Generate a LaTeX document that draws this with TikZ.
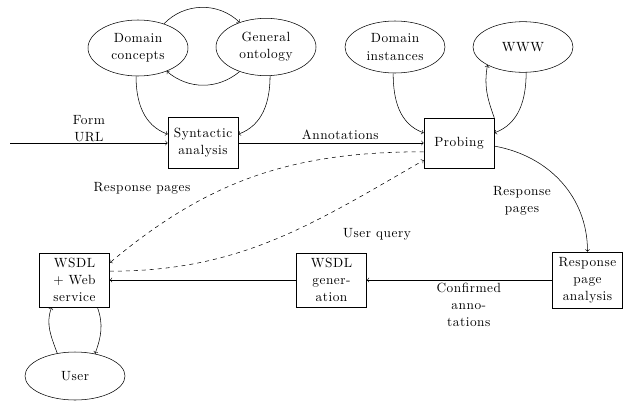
\documentclass[tikz,border=0pt]{standalone}
\usepackage{fontspec}
\setmainfont{Latin Modern Roman}[LetterSpace=4]
\usetikzlibrary{shapes.geometric,calc}
\begin{document}
\begin{tikzpicture}[x=0.75pt,y=0.75pt,>=to,
  every node/.style={font=\fontsize{10}{12.8}\selectfont},
  ell/.style={draw,ellipse,minimum width=75pt,minimum height=41pt,inner sep=0pt,align=center},
  box/.style={draw,rectangle,minimum width=52.5pt,inner sep=1pt,align=center},
  lbl/.style={align=center,inner sep=2pt}]
\useasboundingbox (0,0) rectangle (623,-400);
% nodes
\node[ell,minimum height=42pt] (dc) at (138,-48) {Domain\\concepts};
\node[ell,minimum height=43pt] (go) at (266,-47) {General\\ontology};
\node[ell,minimum height=39pt] (di) at (395,-47) {Domain\\instances};
\node[ell,minimum height=38pt] (www) at (523,-47) {WWW};
\node[ell,minimum height=36pt] (user) at (75,-376) {User};
\node[box,minimum height=38pt] (syn) at (203,-143) {Syntactic\\analysis};
\node[box,minimum height=37.5pt] (prob) at (459,-143) {Probing};
\node[box,minimum height=40.5pt] (wsdl) at (74.5,-280) {WSDL\\$+$ Web\\service};
\node[box,minimum height=40.5pt] (gen) at (331.5,-280) {WSDL\\gener-\\ation};
\node[box,minimum height=42pt] (rpa) at (587.5,-280) {Response\\page\\analysis};
\coordinate (in) at (10,-143);
% labels
\node[lbl] (lrp1) at (142,-188) {Response pages};
\node[lbl] (luq) at (377,-234) {User query};
\node[lbl] (lrp2) at (522,-201) {Response\\pages};
% connectors
\draw[->] (dc.43) to[bend left=45] (go.137);
\draw[->] (go.223) to[bend left=40] (dc.-39);
\draw[->] (dc.-94) to[out=-90,in=160] (syn.166);
\draw[->] (go.-82) to[out=-90,in=20] (syn.14);
\draw[->] (in) -- (syn.west) node[lbl,midway,above,inner sep=1pt] {Form\\URL};
\draw[->] (syn) -- (prob) node[lbl,pos=0.55,above] {Annotations};
\draw[->] (di.-94) to[out=-90,in=160] (prob.164);
\draw[->] (www.-83) to[out=-90,in=20] (prob.16);
\draw[->] (prob.north east) to[out=110,in=-100] (www.207);
\draw[->] (prob.-5) to[out=-10,in=90] (rpa.north);
\draw[->] (rpa) -- (gen) node[lbl,pos=0.45,below] {Confirmed\\anno-\\tations};
\draw[->] (gen) -- (wsdl);
\draw[->,dashed] (prob.194) to[out=180,in=40] (wsdl.26);
\draw[->,dashed] (wsdl.14) to[out=0,in=-150] (prob.206);
\draw[->] (user.128) to[out=110,in=-110] (wsdl.-130);
\draw[->] (wsdl.-50) to[out=-70,in=70] (user.48);
\end{tikzpicture}
\end{document}
